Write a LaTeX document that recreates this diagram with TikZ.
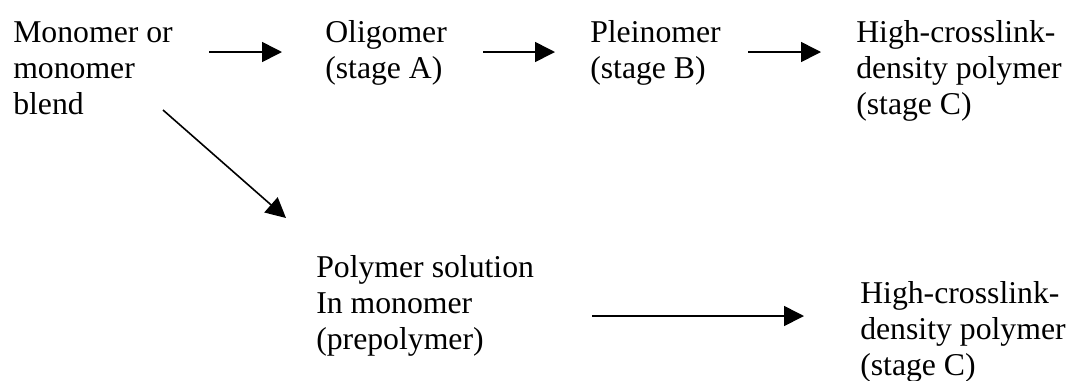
\documentclass[tikz,border=0pt]{standalone}
\usepackage{fontspec}
\setmainfont{Liberation Serif}
\usetikzlibrary{arrows.meta}
\tikzset{
  lbl/.style={anchor=base west, inner sep=0pt, font=\fontsize{23.8}{27}\selectfont},
  arr/.style={line width=1.2pt, -{Triangle[length=15pt, width=15pt]}}
}
\newcommand{\lines}[1]{\begin{tabular}[t]{@{}l@{}}#1\end{tabular}}
\begin{document}
\begin{tikzpicture}[x=0.75pt, y=-0.75pt]
\useasboundingbox (0,0) rectangle (1084,380);
\node[lbl] (m)  at (13,42)  {\lines{Monomer or\\monomer\\blend}};
\node[lbl] (o)  at (325,42) {\lines{Oligomer\\(stage A)}};
\node[lbl] (p)  at (590,42) {\lines{Pleinomer\\(stage B)}};
\node[lbl] (c1) at (856,42) {\lines{High-crosslink-\\density polymer\\(stage C)}};
\node[lbl] (s)  at (316,277) {\lines{Polymer solution\\In monomer\\(prepolymer)}};
\node[lbl] (c2) at (860,303) {\lines{High-crosslink-\\density polymer\\(stage C)}};
\coordinate (a1s) at (209,52); \coordinate (a1e) at (282,52);
\coordinate (a2s) at (483,52); \coordinate (a2e) at (555,52);
\coordinate (a3s) at (748,52); \coordinate (a3e) at (821,52);
\coordinate (a4s) at (163,110); \coordinate (a4e) at (286,218);
\coordinate (a5s) at (592,316); \coordinate (a5e) at (804,316);
\draw[arr] (a1s) -- (a1e);
\draw[arr] (a2s) -- (a2e);
\draw[arr] (a3s) -- (a3e);
\draw[arr] (a4s) -- (a4e);
\draw[arr] (a5s) -- (a5e);
\end{tikzpicture}
\end{document}
